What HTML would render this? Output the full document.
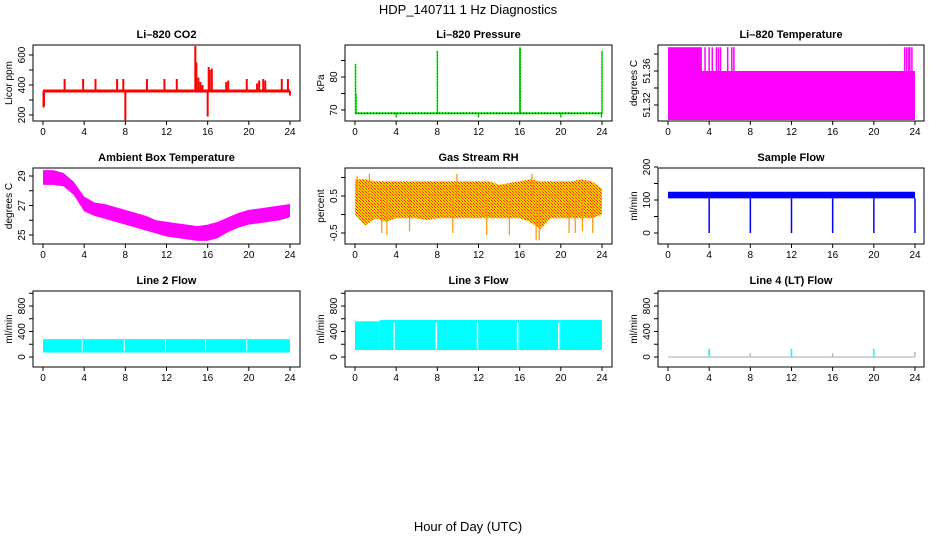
<!DOCTYPE html>
<html><head><meta charset="utf-8"><style>
html,body{margin:0;padding:0;background:#fff;}
svg{display:block;font-family:"Liberation Sans",sans-serif;}
</style></head><body>
<svg id="c" width="936" height="540">
<defs>
<pattern id="rhpat" width="3" height="3" patternUnits="userSpaceOnUse">
<rect width="3" height="3" fill="#ffd000"/><rect x="0" y="0" width="1" height="1" fill="#ff2000"/><rect x="2" y="2" width="1" height="1" fill="#ff2000"/><rect x="1" y="1" width="1" height="1" fill="#ff8000"/>
</pattern>
</defs>
<text x="468" y="14" text-anchor="middle" font-size="13">HDP_140711  1 Hz Diagnostics</text>
<text x="468" y="531" text-anchor="middle" font-size="13">Hour of Day (UTC)</text>
</svg>
<script>
// ---- data ----
const hours = [0,1,2,3,4,5,6,7,8,9,10,11,12,13,14,15,16,17,18,19,20,21,22,23,24];
const xTicks = [0,4,8,12,16,20,24];
const co2Base = 360;
const co2SpikeHours = [0.05,0.1,2.1,3.9,5.1,7.2,7.8,8.0,10.1,11.8,13.0,14.8,14.9,15.1,15.3,15.5,16.0,16.1,16.2,16.4,17.8,18.0,19.8,20.8,21.0,21.4,21.6,23.2,23.8,24.0];
const co2SpikeVals  = [250,260,440,440,440,440,440,165,440,440,440,660,550,450,420,400,190,520,500,510,420,430,440,410,430,440,430,440,440,330];
const presBase = 69;
const presSpikeHours = [0.05,0.1,4,8,12,16,16.05,20,24,23.95];
const presSpikeVals  = [84,75,67.8,88,67.8,89,89,67.8,88,67.8];
const tempLow = 51.36, tempHigh = 51.388, tempHighEnd = 3.3;
const tempSpikeHours = [3.6,4.0,4.3,4.7,4.9,5.1,5.8,6.2,6.4,23.0,23.2,23.4,23.5,23.7];
const ambUpper = [29.4,29.4,29.2,28.6,27.6,27.2,27.1,26.9,26.7,26.5,26.3,26.0,25.9,25.8,25.7,25.6,25.7,25.9,26.2,26.5,26.7,26.8,26.9,27.0,27.1];
const ambLower = [28.4,28.4,28.3,27.7,26.6,26.3,26.1,25.9,25.7,25.5,25.3,25.1,24.9,24.8,24.7,24.6,24.6,24.8,25.2,25.5,25.7,25.8,25.9,26.0,26.2];
const rhUpper = [0.95,0.95,0.9,0.9,0.9,0.9,0.9,0.9,0.9,0.9,0.9,0.9,0.9,0.9,0.8,0.85,0.9,0.95,0.9,0.9,0.9,0.9,0.95,0.9,0.7];
const rhLower = [0.0,-0.3,-0.1,-0.2,-0.1,-0.1,-0.1,-0.15,-0.1,-0.1,-0.1,-0.1,-0.1,-0.1,-0.1,-0.1,-0.1,-0.2,-0.4,-0.1,-0.1,-0.1,-0.1,-0.1,0.0];
const rhSpikeHours = [0.2,1.4,2.6,3.1,5.3,9.5,9.9,12.8,15.0,17.2,17.6,17.9,20.8,21.4,22.1,23.1];
const rhSpikeVals  = [1.05,1.1,-0.5,-0.55,-0.45,-0.5,1.1,-0.55,-0.55,1.1,-0.7,-0.7,-0.5,-0.5,-0.45,-0.5];
const sfUpper = 125, sfLower = 105;
const sfDipHours = [4,8,12,16,20,24];
const sfDipVals  = [0,0,0,0,0,0];
const l2Upper = 280, l2Lower = 70;
const l3Upper = [560,580,580,580,580,580,580];
const l3Lower = [110,110,110,110,110,110,110];
const l3SegStart = [0,2.4,8,12,16,20,24];
const gapHours = [3.8,7.9,11.9,15.8,19.8];
const l4SpikeHours = [4,8,12,16,20,24];
const l4SpikeVals  = [130,60,130,60,130,80];
const l4SpikeCyan  = [true,false,true,false,true,false];

// ---- layout ----
const NS="http://www.w3.org/2000/svg";
const svg=document.getElementById('c');
const cols=[{b0:33,b1:300,x0:43,x1:290},{b0:345,b1:612,x0:355,x1:602},{b0:658,b1:924,x0:668,x1:915}];
const rows=[{t:45,b:121},{t:168,b:244},{t:291,b:367}];
function mk(tag,attrs,parent){const e=document.createElementNS(NS,tag);for(const k in attrs)e.setAttribute(k,attrs[k]);(parent||svg).appendChild(e);return e;}
function panel(ci,ri,title,ylab,yref,yticks,ylabels,name){
  const c=cols[ci],r=rows[ri];
  const g=mk('g',{});
  
  
  const xs=h=>c.x0+(c.x1-c.x0)*h/24;
  const ys=v=>yref[0][1]+(v-yref[0][0])*(yref[1][1]-yref[0][1])/(yref[1][0]-yref[0][0]);
  const plot=mk('g',{},g);
  
  
  const box=mk('rect',{x:c.b0,y:r.t,width:c.b1-c.b0,height:r.b-r.t,fill:'none',stroke:'#000','stroke-width':1},g);
  
  
  const t=mk('text',{x:(c.b0+c.b1)/2,y:r.t-7,'text-anchor':'middle','font-size':11,'font-weight':'bold'},g);
  t.textContent=title;
  
  
  const xa=mk('g',{},g);
  
  
  xTicks.forEach(h=>{const x=xs(h);mk('line',{x1:x,x2:x,y1:r.b,y2:r.b+4,stroke:'#000'},xa);
    const tl=mk('text',{x:x,y:r.b+14,'text-anchor':'middle','font-size':10},xa);tl.textContent=h;});
  const ya=mk('g',{},g);
  
  
  yticks.forEach(v=>{const y=ys(v);mk('line',{x1:c.b0,x2:c.b0-4,y1:y,y2:y,stroke:'#000'},ya);});
  ylabels.forEach(v=>{const y=ys(v);const tl=mk('text',{x:c.b0-8,y:y,'text-anchor':'middle','font-size':10,transform:`rotate(-90 ${c.b0-8} ${y})`},ya);tl.textContent=v;});
  const yl=mk('text',{x:c.b0-21,y:(r.t+r.b)/2,'text-anchor':'middle','font-size':10,transform:`rotate(-90 ${c.b0-21} ${(r.t+r.b)/2})`},g);
  yl.textContent=ylab;
  
  
  return {plot,xs,ys,r,c};
}
function band(p,up,lo,fill){const pts=[];hours.forEach((h,i)=>pts.push(p.xs(h)+','+p.ys(up[i])));for(let i=hours.length-1;i>=0;i--)pts.push(p.xs(hours[i])+','+p.ys(lo[i]));return mk('polygon',{points:pts.join(' '),fill:fill},p.plot);}
function vline(p,h,v0,v1,col,w){return mk('line',{x1:p.xs(h),x2:p.xs(h),y1:p.ys(v0),y2:p.ys(v1),stroke:col,'stroke-width':w||1.5},p.plot);}

// CO2
let p=panel(0,0,'Li\u2013820 CO2','Licor ppm',[[200,115],[600,55]],[200,300,400,500,600],[200,400,600],'co2');
co2SpikeHours.forEach((h,i)=>vline(p,h,co2Base,co2SpikeVals[i],'#ff0000',2));
mk('line',{x1:p.xs(0),x2:p.xs(24),y1:p.ys(co2Base),y2:p.ys(co2Base),stroke:'#ff0000','stroke-width':3},p.plot);

// Pressure
p=panel(1,0,'Li\u2013820 Pressure','kPa',[[70,110],[80,77]],[70,75,80,85],[70,80],'pressure');
mk('line',{x1:p.xs(0),x2:p.xs(24),y1:p.ys(presBase),y2:p.ys(presBase),stroke:'#00ee00','stroke-width':2},p.plot);
mk('line',{x1:p.xs(0),x2:p.xs(24),y1:p.ys(presBase),y2:p.ys(presBase),stroke:'#000','stroke-width':1,'stroke-dasharray':'1,2'},p.plot);
presSpikeHours.forEach((h,i)=>{vline(p,h,presBase,presSpikeVals[i],'#00ee00',1.5);vline(p,h,presBase,presSpikeVals[i],'#000',0.6).setAttribute('stroke-dasharray','1,2');});

// Temperature
p=panel(2,0,'Li\u2013820 Temperature','degrees C',[[51.32,105],[51.36,71]],[51.32,51.34,51.36,51.38],[51.32,51.36],'li820-temperature');
mk('rect',{x:p.xs(0),y:p.ys(tempLow),width:p.xs(24)-p.xs(0),height:120-p.ys(tempLow),fill:'#ff00ff'},p.plot);
mk('rect',{x:p.xs(0),y:p.ys(tempHigh),width:p.xs(tempHighEnd)-p.xs(0),height:p.ys(tempLow)-p.ys(tempHigh),fill:'#ff00ff'},p.plot);
tempSpikeHours.forEach(h=>vline(p,h,tempLow,tempHigh,'#ff00ff',1.5));

// Ambient
p=panel(0,1,'Ambient Box Temperature','degrees C',[[25,235],[29,176]],[25,26,27,28,29],[25,27,29],'ambient-temperature');
band(p,ambUpper,ambLower,'#ff00ff');

// RH
p=panel(1,1,'Gas Stream RH','percent',[[-0.5,233],[0.5,196]],[-0.5,0,0.5,1.0],[-0.5,0.5],'gas-stream-rh');
band(p,rhUpper,rhLower,'url(#rhpat)');
rhSpikeHours.forEach((h,i)=>vline(p,h,0.4,rhSpikeVals[i],'#ff9000',1.2));

// Sample flow
p=panel(2,1,'Sample Flow','ml/min',[[0,233],[200,167]],[0,50,100,150,200],[0,100,200],'sample-flow');
mk('rect',{x:p.xs(0),y:p.ys(sfUpper),width:p.xs(24)-p.xs(0),height:p.ys(sfLower)-p.ys(sfUpper),fill:'#0000ff'},p.plot);
sfDipHours.forEach((h,i)=>vline(p,h,sfLower,sfDipVals[i],'#0000ff',1.5));

// Line 2
p=panel(0,2,'Line 2 Flow','ml/min',[[0,357],[800,306]],[0,200,400,600,800,1000],[0,400,800],'line2-flow');
mk('rect',{x:p.xs(0),y:p.ys(l2Upper),width:p.xs(24)-p.xs(0),height:p.ys(l2Lower)-p.ys(l2Upper),fill:'#00ffff'},p.plot);
gapHours.forEach(h=>vline(p,h,l2Lower+20,l2Upper-10,'#ffffff',1));

// Line 3
p=panel(1,2,'Line 3 Flow','ml/min',[[0,357],[800,306]],[0,200,400,600,800,1000],[0,400,800],'line3-flow');
for(let i=0;i<l3SegStart.length-1;i++){mk('rect',{x:p.xs(l3SegStart[i]),y:p.ys(l3Upper[i]),width:p.xs(l3SegStart[i+1])-p.xs(l3SegStart[i]),height:p.ys(l3Lower[i])-p.ys(l3Upper[i]),fill:'#00ffff'},p.plot);}
gapHours.forEach(h=>vline(p,h,l3Lower[0]+10,l3Upper[1]-40,'#ffffff',1.5));

// Line 4
p=panel(2,2,'Line 4 (LT) Flow','ml/min',[[0,357],[800,306]],[0,200,400,600,800,1000],[0,400,800],'line4-flow');
mk('line',{x1:p.xs(0),x2:p.xs(24),y1:p.ys(0),y2:p.ys(0),stroke:'#aaaaaa','stroke-width':1},p.plot);
l4SpikeHours.forEach((h,i)=>vline(p,h,0,l4SpikeVals[i],l4SpikeCyan[i]?'#00ffff':'#bbbbbb',1.5));
</script>
</body></html>
